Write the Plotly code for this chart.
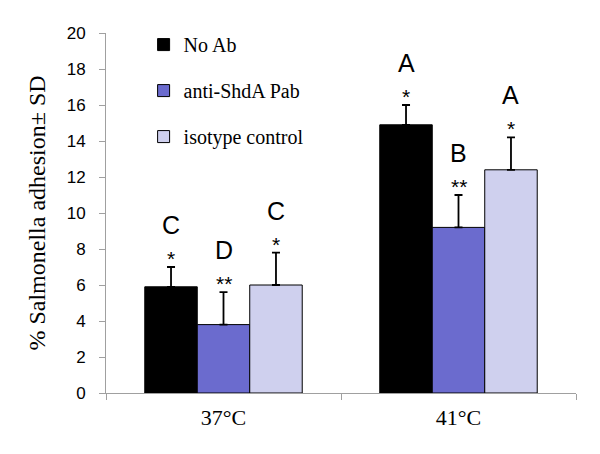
import plotly.graph_objects as go

categories = ["37°C", "41°C"]
series_names = ["No Ab", "anti-ShdA Pab", "isotype control"]
values = {
    "No Ab": [5.9, 14.9],
    "anti-ShdA Pab": [3.8, 9.2],
    "isotype control": [6.0, 12.4],
}
sds = {
    "No Ab": [1.1, 1.1],
    "anti-ShdA Pab": [1.8, 1.8],
    "isotype control": [1.8, 1.8],
}
stars = {
    "No Ab": ["*", "*"],
    "anti-ShdA Pab": ["**", "**"],
    "isotype control": ["*", "*"],
}
letters = {
    "No Ab": ["C", "A"],
    "anti-ShdA Pab": ["D", "B"],
    "isotype control": ["C", "A"],
}
colors = {"No Ab": "#000000", "anti-ShdA Pab": "#6B6BCE", "isotype control": "#CFD0EE"}

SERIF = "Liberation Serif"
SANS = "Liberation Sans"

fig = go.Figure()
for i, name in enumerate(series_names):
    fig.add_trace(go.Bar(
        x=categories, y=values[name], name=name,
        legendgroup=f"g{i}",
        marker=dict(color=colors[name], line=dict(color="#000000", width=1)),
        error_y=dict(type="data", array=sds[name], arrayminus=[0, 0], symmetric=False,
                     color="#000000", thickness=1.8, width=4),
        offsetgroup=str(i),
    ))

annotations = []
n = len(series_names)
bar_w = 0.67 / n
for i, name in enumerate(series_names):
    for j, cat in enumerate(categories):
        xpos = j + (i - (n - 1) / 2) * bar_w
        top = values[name][j] + sds[name][j]
        annotations.append(dict(x=xpos, y=top, xref="x", yref="y", text=stars[name][j],
                                showarrow=False, yanchor="bottom", yshift=-5,
                                font=dict(family=SANS, size=21, color="black")))
        annotations.append(dict(x=xpos, y=top, xref="x", yref="y", text=letters[name][j],
                                showarrow=False, yanchor="bottom", yshift=26,
                                font=dict(family=SANS, size=25, color="black")))

fig.update_layout(
    width=600, height=454,
    margin=dict(l=98, r=32, t=25, b=69, autoexpand=False),
    paper_bgcolor="white", plot_bgcolor="white",
    barmode="group", bargap=0.33, bargroupgap=0,
    showlegend=True,
    legend=dict(x=0.08, y=1.022, xanchor="left", yanchor="top",
                font=dict(family=SERIF, size=20, color="black"),
                tracegroupgap=17, bgcolor="rgba(0,0,0,0)", itemwidth=30),
    annotations=annotations,
)
fig.update_xaxes(
    type="category", range=[-0.5, 1.5],
    showline=True, linecolor="#A0A0A0", linewidth=1,
    ticks="outside", tickson="boundaries", ticklen=6, tickcolor="#A0A0A0",
    ticklabelstandoff=5,
    tickfont=dict(family=SERIF, size=22, color="black"),
    showgrid=False,
)
fig.update_yaxes(
    range=[0, 20], dtick=2,
    showline=True, linecolor="#A0A0A0", linewidth=1,
    ticks="outside", ticklen=6, tickcolor="#A0A0A0",
    ticklabelstandoff=10,
    tickfont=dict(family=SANS, size=17, color="black"),
    showgrid=False, zeroline=False,
    title=dict(text="% Salmonella adhesion± SD", standoff=14,
               font=dict(family=SERIF, size=24, color="black")),
)

fig.write_html("out.html")
